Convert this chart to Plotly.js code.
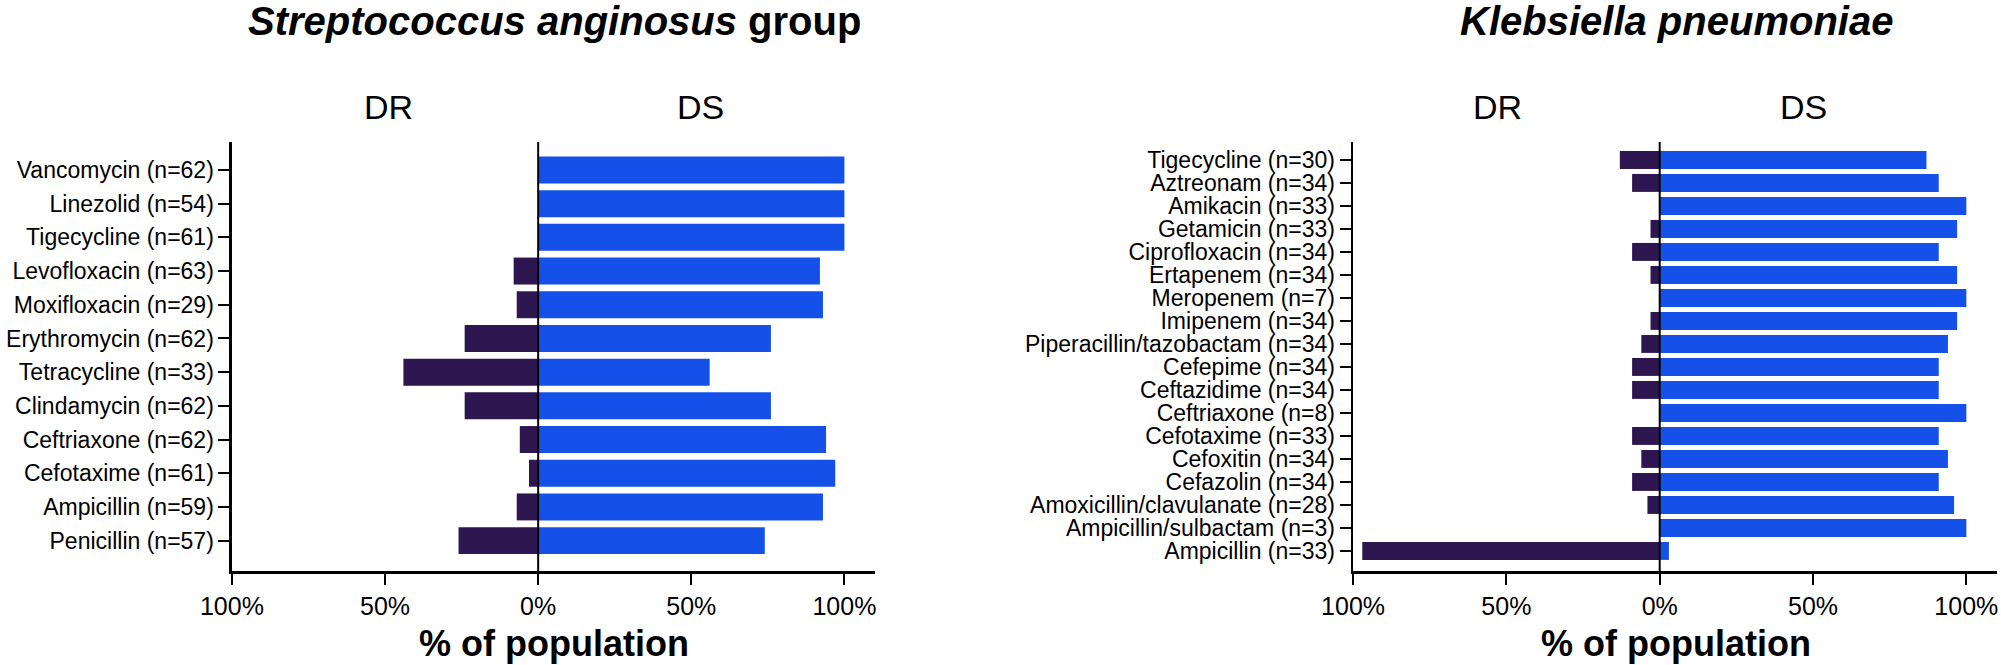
<!DOCTYPE html>
<html>
<head>
<meta charset="utf-8">
<script src="https://cdn.plot.ly/plotly-3.0.1.min.js"></script>
<style>
  html, body { margin: 0; padding: 0; background: #fff; }
  #plot { width: 2001px; height: 665px; }
</style>
</head>
<body>
<div id="plot"></div>
<script>
// Streptococcus anginosus group
var strepDrugs = ['Vancomycin (n=62)', 'Linezolid (n=54)', 'Tigecycline (n=61)', 'Levofloxacin (n=63)',
  'Moxifloxacin (n=29)', 'Erythromycin (n=62)', 'Tetracycline (n=33)', 'Clindamycin (n=62)',
  'Ceftriaxone (n=62)', 'Cefotaxime (n=61)', 'Ampicillin (n=59)', 'Penicillin (n=57)'];
var strepDR = [0, 0, 0, 8, 7, 24, 44, 24, 6, 3, 7, 26];
var strepDS = [100, 100, 100, 92, 93, 76, 56, 76, 94, 97, 93, 74];

// Klebsiella pneumoniae
var klebDrugs = ['Tigecycline (n=30)', 'Aztreonam (n=34)', 'Amikacin (n=33)', 'Getamicin (n=33)',
  'Ciprofloxacin (n=34)', 'Ertapenem (n=34)', 'Meropenem (n=7)', 'Imipenem (n=34)',
  'Piperacillin/tazobactam (n=34)', 'Cefepime (n=34)', 'Ceftazidime (n=34)', 'Ceftriaxone (n=8)',
  'Cefotaxime (n=33)', 'Cefoxitin (n=34)', 'Cefazolin (n=34)', 'Amoxicillin/clavulanate (n=28)',
  'Ampicillin/sulbactam (n=3)', 'Ampicillin (n=33)'];
var klebDR = [13, 9, 0, 3, 9, 3, 0, 3, 6, 9, 9, 0, 9, 6, 9, 4, 0, 97];
var klebDS = [87, 91, 100, 97, 91, 97, 100, 97, 94, 91, 91, 100, 91, 94, 91, 96, 100, 3];

var tickVals = [-100, -50, 0, 50, 100];
var tickText = ['100%', '50%', '0%', '50%', '100%'];

var FONT = 'Liberation Sans, Arial, sans-serif';
var drColor = '#2e1650';
var dsColor = '#1550e8';

function neg(arr) {
  return arr.map(function (v) { return -v; });
}

var data = [
  { type: 'bar', orientation: 'h', y: strepDrugs, x: neg(strepDR), xaxis: 'x', yaxis: 'y',
    marker: { color: drColor }, width: 0.8, hoverinfo: 'none' },
  { type: 'bar', orientation: 'h', y: strepDrugs, x: strepDS, xaxis: 'x', yaxis: 'y',
    marker: { color: dsColor }, width: 0.8, hoverinfo: 'none' },
  { type: 'bar', orientation: 'h', y: klebDrugs, x: neg(klebDR), xaxis: 'x2', yaxis: 'y2',
    marker: { color: drColor }, width: 0.78, hoverinfo: 'none' },
  { type: 'bar', orientation: 'h', y: klebDrugs, x: klebDS, xaxis: 'x2', yaxis: 'y2',
    marker: { color: dsColor }, width: 0.78, hoverinfo: 'none' }
];

function xAxis(domain, anchor) {
  return {
    domain: domain,
    anchor: anchor,
    range: [-100, 110],
    showgrid: false,
    zeroline: false,
    showline: true,
    linecolor: '#000',
    linewidth: 3,
    ticks: 'outside',
    ticklen: 11,
    tickwidth: 2,
    tickcolor: '#000',
    tickvals: tickVals,
    ticktext: tickText,
    tickfont: { family: FONT, size: 25, color: '#000' },
    fixedrange: true
  };
}

function yAxis(cats, range, anchor) {
  return {
    domain: [0.1414, 0.7865],
    anchor: anchor,
    type: 'category',
    categoryorder: 'array',
    categoryarray: cats,
    range: range,
    tickmode: 'linear',
    tick0: 0,
    dtick: 1,
    showgrid: false,
    zeroline: false,
    showline: true,
    linecolor: '#000',
    linewidth: 2.5,
    ticks: 'outside',
    ticklen: 11,
    tickwidth: 2,
    tickcolor: '#000',
    tickfont: { family: FONT, size: 23, color: '#000' },
    fixedrange: true
  };
}

var layout = {
  width: 2001,
  height: 665,
  margin: { l: 0, r: 0, t: 0, b: 0 },
  paper_bgcolor: '#fff',
  plot_bgcolor: '#fff',
  showlegend: false,
  barmode: 'relative',
  font: { family: FONT, color: '#000' },
  xaxis: xAxis([0.1159, 0.4373], 'y'),
  yaxis: yAxis(strepDrugs, [strepDrugs.length - 0.1, -0.83], 'x'),
  xaxis2: xAxis([0.6762, 0.998], 'y2'),
  yaxis2: yAxis(klebDrugs, [klebDrugs.length - 0.13, -0.78], 'x2'),
  shapes: [
    { type: 'line', xref: 'x', yref: 'y domain', x0: 0, x1: 0, y0: 0, y1: 1,
      line: { color: '#000', width: 2 }, layer: 'above' },
    { type: 'line', xref: 'x2', yref: 'y2 domain', x0: 0, x1: 0, y0: 0, y1: 1,
      line: { color: '#000', width: 2 }, layer: 'above' }
  ],
  annotations: [
    { xref: 'paper', yref: 'paper', x: 0.2769, y: 1 - 21 / 665, yanchor: 'middle', xanchor: 'center',
      text: '<b><i>Streptococcus anginosus</i> group</b>', showarrow: false,
      font: { family: FONT, size: 40, color: '#000' } },
    { xref: 'paper', yref: 'paper', x: 0.8376, y: 1 - 21 / 665, yanchor: 'middle', xanchor: 'center',
      text: '<b><i>Klebsiella pneumoniae</i></b>', showarrow: false,
      font: { family: FONT, size: 40, color: '#000' } },
    { xref: 'x', yref: 'paper', x: -49, y: 1 - 107 / 665, xanchor: 'center', yanchor: 'middle', text: 'DR',
      showarrow: false, font: { family: FONT, size: 34, color: '#000' } },
    { xref: 'x', yref: 'paper', x: 53, y: 1 - 107 / 665, xanchor: 'center', yanchor: 'middle', text: 'DS',
      showarrow: false, font: { family: FONT, size: 34, color: '#000' } },
    { xref: 'x2', yref: 'paper', x: -53, y: 1 - 107 / 665, xanchor: 'center', yanchor: 'middle', text: 'DR',
      showarrow: false, font: { family: FONT, size: 34, color: '#000' } },
    { xref: 'x2', yref: 'paper', x: 47, y: 1 - 107 / 665, xanchor: 'center', yanchor: 'middle', text: 'DS',
      showarrow: false, font: { family: FONT, size: 34, color: '#000' } },
    { xref: 'paper', yref: 'paper', x: 0.2769, y: 1 - 643 / 665, xanchor: 'center', yanchor: 'middle',
      text: '<b>% of population</b>', showarrow: false, font: { family: FONT, size: 36, color: '#000' } },
    { xref: 'paper', yref: 'paper', x: 0.8376, y: 1 - 643 / 665, xanchor: 'center', yanchor: 'middle',
      text: '<b>% of population</b>', showarrow: false, font: { family: FONT, size: 36, color: '#000' } }
  ]
};

Plotly.newPlot('plot', data, layout, { displayModeBar: false, staticPlot: true });
</script>
</body>
</html>
